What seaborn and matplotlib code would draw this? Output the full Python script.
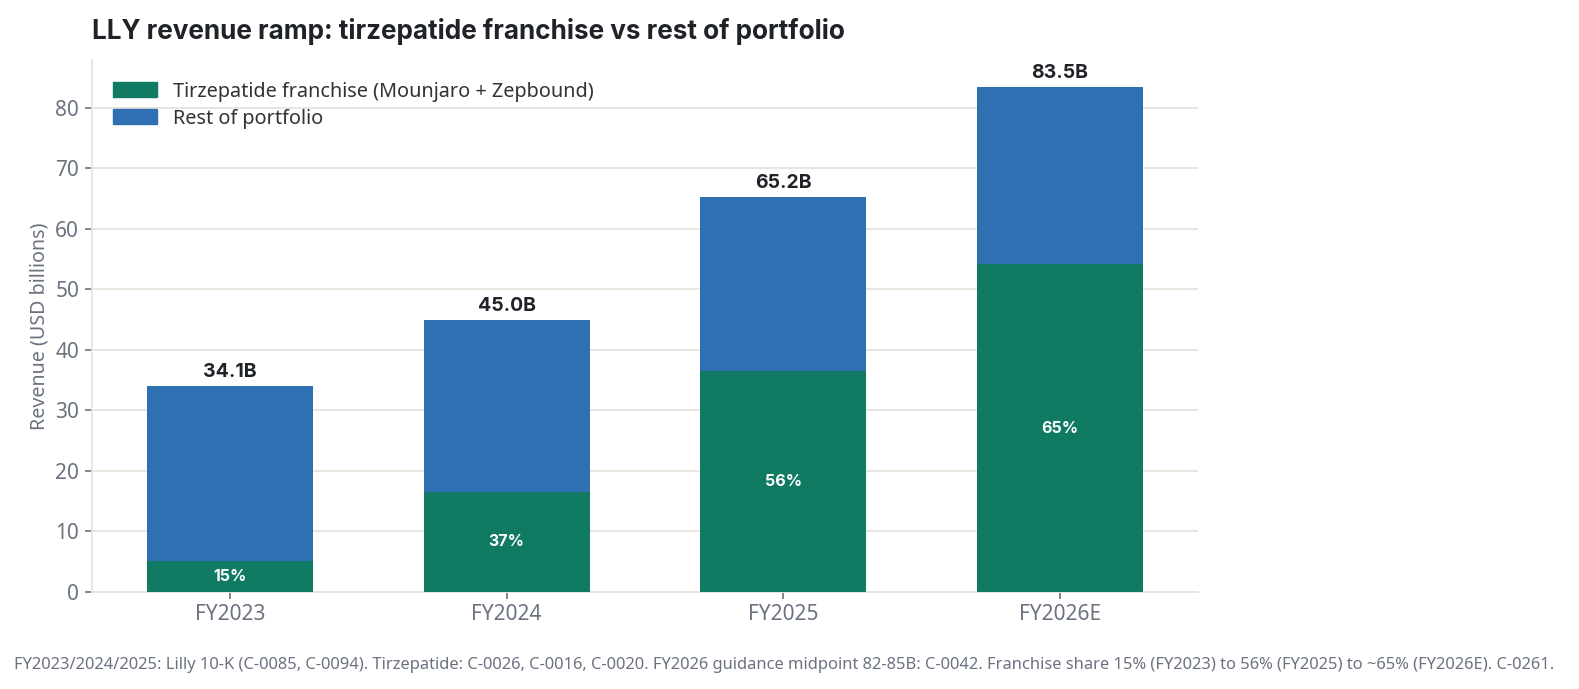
import numpy as np
import pandas as pd
import matplotlib
matplotlib.use("Agg")
import matplotlib.pyplot as plt
import seaborn as sns
from matplotlib.patches import Patch

# ---------------- DATA ----------------
years = ["FY2023", "FY2024", "FY2025", "FY2026E"]
total_rev = [34.1, 45.0, 65.2, 83.5]
tirz_rev = [5.1, 16.5, 36.5, 54.1]
tirz_share = ["15%", "37%", "56%", "65%"]

GREEN = "#107a62"
BLUE = "#2f70b3"
GRID = "#e7e4dc"
GRAY = "#6b7280"
DARK = "#1f2328"
BOLD_FONT = ["Inter", "DejaVu Sans"]

sns.set_theme(style="white")
plt.rcParams["font.family"] = ["Noto Sans", "DejaVu Sans"]

df = pd.DataFrame({"year": years, "total": total_rev, "tirz": tirz_rev})

fig, ax = plt.subplots(figsize=(15.79, 6.89), dpi=100)
fig.subplots_adjust(left=0.058, right=0.759, top=0.913, bottom=0.141)

# total bar in blue, franchise drawn over it in green
sns.barplot(data=df, x="year", y="total", color=BLUE, width=0.6, saturation=1,
            linewidth=0, ax=ax, zorder=2)
sns.barplot(data=df, x="year", y="tirz", color=GREEN, width=0.6, saturation=1,
            linewidth=0, ax=ax, zorder=3)

for i, (t, f, s) in enumerate(zip(total_rev, tirz_rev, tirz_share)):
    ax.text(i, t + 0.8, f"{t:.1f}B", ha="center", va="bottom", fontsize=14,
            fontweight="bold", family=BOLD_FONT, color=DARK, zorder=4)
    ax.text(i, f / 2, s, ha="center", va="center", fontsize=11.5,
            fontweight="bold", family=BOLD_FONT, color="white", zorder=4)

ax.set_ylim(0, 87.9)
ax.set_yticks(np.arange(0, 81, 10))
ax.yaxis.grid(True, color=GRID, linewidth=1.3, zorder=0)
ax.set_axisbelow(True)
sns.despine(ax=ax)
for sp in ["left", "bottom"]:
    ax.spines[sp].set_color(GRID)
    ax.spines[sp].set_linewidth(1.3)
ax.tick_params(axis="both", bottom=True, left=True, labelcolor=GRAY, labelsize=15,
               length=5, width=1.2, color="#6b7280", direction="out", pad=4)
ax.set_xlabel("")
ax.set_ylabel("Revenue (USD billions)", color=GRAY, fontsize=14.2)

ax.set_title("LLY revenue ramp: tirzepatide franchise vs rest of portfolio",
             loc="left", x=0.0, fontsize=18.8, fontweight="bold", family=BOLD_FONT,
             color=DARK, pad=15)

handles = [Patch(color=GREEN, label="Tirzepatide franchise (Mounjaro + Zepbound)"),
           Patch(color=BLUE, label="Rest of portfolio")]
leg = ax.legend(handles=handles, loc="upper left", frameon=False, fontsize=14.3,
                handlelength=2.2, handleheight=0.8, borderaxespad=0.7, labelspacing=0.35)
for txt in leg.get_texts():
    txt.set_color("#333333")

fig.text(0.009, 0.035,
         "FY2023/2024/2025: Lilly 10-K (C-0085, C-0094). Tirzepatide: C-0026, C-0016, C-0020. "
         "FY2026 guidance midpoint 82-85B: C-0042. Franchise share 15% (FY2023) to 56% (FY2025) "
         "to ~65% (FY2026E). C-0261.",
         fontsize=11.9, color=GRAY, ha="left", va="center")

fig.savefig("out.png", dpi=100)
